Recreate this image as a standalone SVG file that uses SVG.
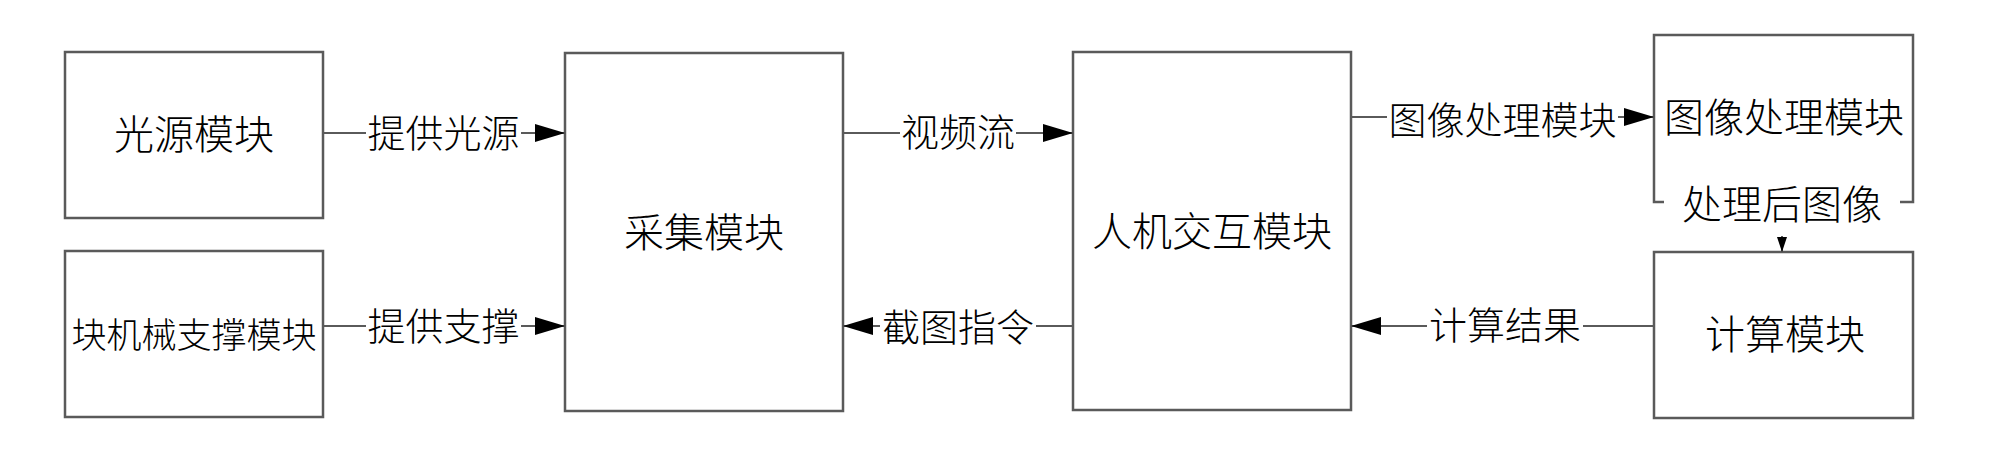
<svg xmlns="http://www.w3.org/2000/svg" width="2000" height="472" viewBox="0 0 2000 472">
<defs>
<style>
.box{fill:#fff;stroke:#5a5a5a;stroke-width:2.5}
.ln{fill:none;stroke:#5a5a5a;stroke-width:2}
.t{font-family:"Noto Sans CJK SC","Noto Sans CJK JP",sans-serif;font-weight:300;fill:#000;text-anchor:middle;dominant-baseline:central}
.tb{font-size:40px}
.tl{font-size:38px}
</style>
<marker id="arr" markerUnits="userSpaceOnUse" markerWidth="30" markerHeight="18" refX="30" refY="9" orient="auto">
<path d="M0,0 L30,9 L0,18 Z" fill="#000"/>
</marker>
<marker id="arrS" markerUnits="userSpaceOnUse" markerWidth="15" markerHeight="10" refX="15" refY="5" orient="auto">
<path d="M0,0 L15,5 L0,10 Z" fill="#000"/>
</marker>
</defs>
<rect width="2000" height="472" fill="#fff"/>
<g id="light">
<rect class="box" x="65" y="52" width="258" height="166"/>
<text class="t tb" x="194" y="132">光源模块</text>
</g>
<g id="support">
<rect class="box" x="65" y="251" width="258" height="166"/>
<text class="t" style="font-size:35px" x="194" y="332">块机械支撑模块</text>
</g>
<g id="collect">
<rect class="box" x="565" y="53" width="278" height="358"/>
<text class="t tb" x="704" y="230">采集模块</text>
</g>
<g id="hmi">
<rect class="box" x="1073" y="52" width="278" height="358"/>
<text class="t tb" x="1212" y="229">人机交互模块</text>
</g>
<g id="imgproc">
<rect class="box" x="1654" y="35" width="259" height="167"/>
<text class="t tb" x="1784" y="115">图像处理模块</text>
</g>
<g id="calc">
<rect class="box" x="1654" y="252" width="259" height="166"/>
<text class="t tb" x="1785" y="332">计算模块</text>
</g>
<g id="connectors">
<path class="ln" d="M323,133 H366 M521,133 H565" marker-end="url(#arr)"/>
<text class="t tl" x="443.5" y="130">提供光源</text>
<path class="ln" d="M323,326 H366 M521,326 H565" marker-end="url(#arr)"/>
<text class="t tl" x="443.5" y="323">提供支撑</text>
<path class="ln" d="M843,133 H900 M1016,133 H1073" marker-end="url(#arr)"/>
<text class="t tl" x="958" y="129">视频流</text>
<path class="ln" d="M1073,326 H1036 M880,326 H843" marker-end="url(#arr)"/>
<text class="t tl" x="958" y="324">截图指令</text>
<path class="ln" d="M1351,117 H1387 M1618,117 H1654" marker-end="url(#arr)"/>
<text class="t tl" x="1502.5" y="117">图像处理模块</text>
<path class="ln" d="M1654,326 H1583 M1427,326 H1351" marker-end="url(#arr)"/>
<text class="t tl" x="1505" y="322">计算结果</text>
<rect x="1664" y="186" width="236" height="50" fill="#fff"/>
<path class="ln" d="M1782,236 V252" marker-end="url(#arrS)"/>
<text class="t tb" x="1782" y="202">处理后图像</text>
</g>
</svg>
